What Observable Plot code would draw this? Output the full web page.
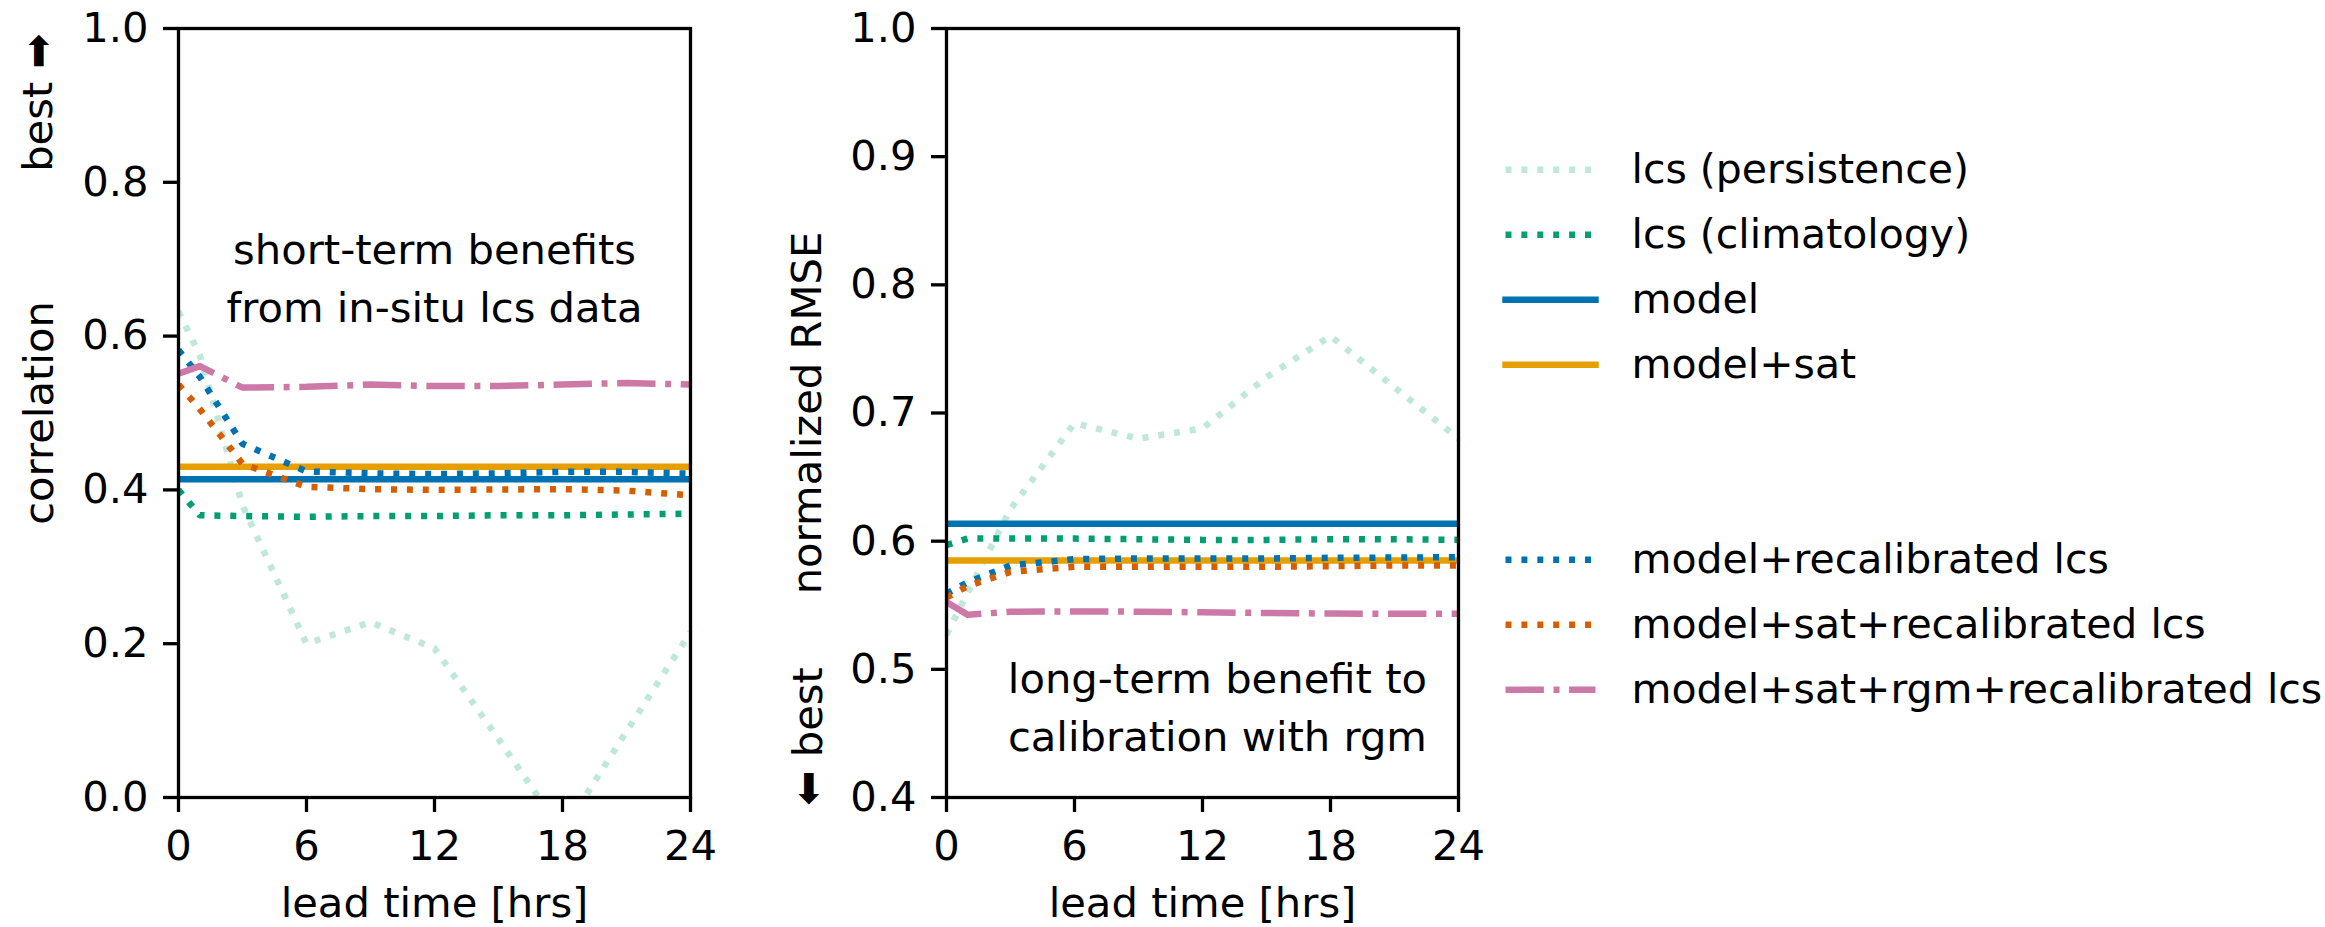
<!DOCTYPE html>
<html>
<head>
<meta charset="utf-8">
<script src="https://cdn.jsdelivr.net/npm/d3@7"></script>
<script src="https://cdn.jsdelivr.net/npm/@observablehq/plot@0.6"></script>
<style>
html, body { margin: 0; padding: 0; background: #fff; }
#fig { position: relative; width: 2325px; height: 927px; overflow: hidden; background: #fff; }
#fig > svg { position: absolute; top: 0; }
</style>
</head>
<body>
<div id="fig"></div>
<script>
// ---------------- data ----------------
const leadTime = [0, 1, 3, 6, 9, 12, 15, 18, 21, 24];
const leadTicks = [0, 6, 12, 18, 24];
const corrTicks = [0, 0.2, 0.4, 0.6, 0.8, 1.0];
const rmseTicks = [0.4, 0.5, 0.6, 0.7, 0.8, 0.9, 1.0];

const seriesNames = [
  "lcs (persistence)",
  "lcs (climatology)",
  "model",
  "model+sat",
  "model+recalibrated lcs",
  "model+sat+recalibrated lcs",
  "model+sat+rgm+recalibrated lcs"
];

// correlation (left panel)
const corrPersistence = [0.632, 0.575, 0.380, 0.200, 0.228, 0.194, 0.076, -0.045, 0.086, 0.215];
const corrClimatology = [0.400, 0.367, 0.366, 0.365, 0.366, 0.366, 0.367, 0.367, 0.368, 0.369];
const corrModel       = [0.414, 0.414, 0.414, 0.414, 0.414, 0.414, 0.414, 0.414, 0.414, 0.414];
const corrModelSat    = [0.430, 0.430, 0.430, 0.430, 0.430, 0.430, 0.430, 0.430, 0.430, 0.430];
const corrRecal       = [0.582, 0.547, 0.460, 0.424, 0.4215, 0.4205, 0.4215, 0.4235, 0.4235, 0.421];
const corrSatRecal    = [0.537, 0.505, 0.434, 0.404, 0.401, 0.400, 0.4005, 0.401, 0.399, 0.393];
const corrRgm         = [0.551, 0.561, 0.533, 0.534, 0.537, 0.535, 0.535, 0.537, 0.539, 0.537];

// normalized RMSE (right panel)
const rmsePersistence = [0.527, 0.560, 0.625, 0.692, 0.680, 0.688, 0.728, 0.760, 0.720, 0.680];
const rmseClimatology = [0.597, 0.602, 0.602, 0.602, 0.6015, 0.601, 0.601, 0.6015, 0.6015, 0.601];
const rmseModel       = [0.6135, 0.6135, 0.6135, 0.6135, 0.6135, 0.6135, 0.6135, 0.6135, 0.6135, 0.6135];
const rmseModelSat    = [0.585, 0.585, 0.585, 0.585, 0.585, 0.585, 0.585, 0.585, 0.585, 0.585];
const rmseRecal       = [0.559, 0.568, 0.581, 0.586, 0.5865, 0.5865, 0.5865, 0.587, 0.5872, 0.5875];
const rmseSatRecal    = [0.556, 0.565, 0.576, 0.580, 0.580, 0.580, 0.580, 0.5805, 0.581, 0.581];
const rmseRgm         = [0.5525, 0.5425, 0.545, 0.5452, 0.545, 0.5445, 0.544, 0.5435, 0.5433, 0.5433];

const corrSeries = [corrPersistence, corrClimatology, corrModel, corrModelSat, corrRecal, corrSatRecal, corrRgm];
const rmseSeries = [rmsePersistence, rmseClimatology, rmseModel, rmseModelSat, rmseRecal, rmseSatRecal, rmseRgm];

const leftNote = "short-term benefits\nfrom in-situ lcs data";
const rightNote = "long-term benefit to\ncalibration with rgm";

// ---------------- styles ----------------
const FONT = "DejaVu Sans";
const FS = 41.7;
const LEGEND_FS = 41;
const LW = 6;
const SW = 6.5;
const AXW = 3.3;
const DOTTED = `${LW},${(1.65 * LW).toFixed(2)}`;
const DASHDOT = `${6.4 * LW},${1.6 * LW},${LW},${1.6 * LW}`;
const seriesStyle = [
  {stroke: "#009E73", strokeOpacity: 0.25, strokeDasharray: DOTTED},
  {stroke: "#009E73", strokeOpacity: 1, strokeDasharray: DOTTED},
  {stroke: "#0072B2", strokeOpacity: 1, strokeDasharray: null},
  {stroke: "#E69F00", strokeOpacity: 1, strokeDasharray: null},
  {stroke: "#0072B2", strokeOpacity: 1, strokeDasharray: DOTTED},
  {stroke: "#D55E00", strokeOpacity: 1, strokeDasharray: DOTTED},
  {stroke: "#CC79A7", strokeOpacity: 1, strokeDasharray: DASHDOT}
];
const legendSlot = [0, 1, 2, 3, 6, 7, 8];

function lineMarks(seriesList) {
  return seriesList.map((vals, i) => {
    const st = seriesStyle[i];
    const rows = leadTime.map((t, j) => ({t, v: vals[j]}));
    return Plot.line(rows, {
      x: "t", y: "v",
      stroke: st.stroke,
      strokeOpacity: st.strokeOpacity,
      strokeWidth: SW,
      strokeDasharray: st.strokeDasharray,
      strokeLinecap: st.strokeDasharray ? "butt" : "square",
      strokeLinejoin: "round",
      clip: true
    });
  });
}

const baseStyle = {fontFamily: FONT, fontSize: FS + "px", background: "transparent", overflow: "visible", color: "black"};

function panel({series, yDomain, yTicks, ylabel, bestText, bestTop, note, noteX, noteY, marginLeft, marginRight, labelDx, bestDx}) {
  return Plot.plot({
    width: 760, height: 927,
    marginLeft, marginRight, marginTop: 28, marginBottom: 130,
    style: baseStyle,
    x: {domain: [0, 24]},
    y: {domain: yDomain},
    marks: [
      ...lineMarks(series),
      Plot.frame({stroke: "black", strokeWidth: AXW}),
      Plot.axisX({ticks: leadTicks, tickSize: 15, tickPadding: 18, strokeWidth: AXW, label: null, fontSize: FS}),
      Plot.axisY({ticks: yTicks, tickSize: 15, tickPadding: 15, strokeWidth: AXW, label: null, tickFormat: d3.format(".1f"), fontSize: FS}),
      Plot.text([ylabel], {frameAnchor: "left", rotate: -90, textAnchor: "middle", dx: labelDx, lineAnchor: "bottom", fontSize: FS}),
      Plot.text([bestText], bestTop
        ? {frameAnchor: "top-left", rotate: -90, textAnchor: "end", dx: bestDx, dy: 5, lineAnchor: "bottom", fontSize: FS}
        : {frameAnchor: "bottom-left", rotate: -90, textAnchor: "start", dx: bestDx, dy: 8, lineAnchor: "bottom", fontSize: FS}),
      Plot.text(["lead time [hrs]"], {frameAnchor: "bottom", textAnchor: "middle", dy: 119, lineAnchor: "bottom", fontSize: FS}),
      Plot.text([note], {x: () => noteX, y: () => noteY, textAnchor: "middle", lineAnchor: "bottom", lineHeight: 1.39, fontSize: FS})
    ]
  });
}

const left = panel({
  series: corrSeries, yDomain: [0, 1], yTicks: corrTicks,
  ylabel: "correlation", bestText: "best \u27A1", bestTop: true,
  note: leftNote, noteX: 12, noteY: 0.618,
  marginLeft: 178, marginRight: 70, labelDx: -126, bestDx: -126.3
});
const right = panel({
  series: rmseSeries, yDomain: [0.4, 1.0], yTicks: rmseTicks,
  ylabel: "normalized RMSE", bestText: "\u2B05 best", bestTop: false,
  note: rightNote, noteX: 12.7, noteY: 0.436,
  marginLeft: 186, marginRight: 62, labelDx: -126, bestDx: -124.3
});

// legend built with Plot
const legendMarks = seriesNames.map((name, i) => {
  const st = seriesStyle[i];
  const rows = [{x: 0, y: legendSlot[i]}, {x: 1, y: legendSlot[i]}];
  return Plot.line(rows, {
    x: "x", y: "y",
    stroke: st.stroke, strokeOpacity: st.strokeOpacity, strokeWidth: SW,
    strokeDasharray: st.strokeDasharray,
    strokeLinecap: st.strokeDasharray ? "butt" : "square"
  });
});
const legend = Plot.plot({
  width: 845, height: 927,
  style: {...baseStyle, fontSize: LEGEND_FS + "px"},
  x: {domain: [0, 1], range: [25, 115], axis: null},
  y: {domain: [0, 8], range: [169.3, 689.3], axis: null},
  marks: [
    ...legendMarks,
    Plot.text(seriesNames, {x: () => 1, y: (d, i) => legendSlot[i], dx: 36, textAnchor: "start", fontSize: LEGEND_FS})
  ]
});

const fig = document.getElementById("fig");
left.style.left = "0px";
right.style.left = "760px";
legend.style.left = "1480px";
fig.append(left, right, legend);
</script>
</body>
</html>
